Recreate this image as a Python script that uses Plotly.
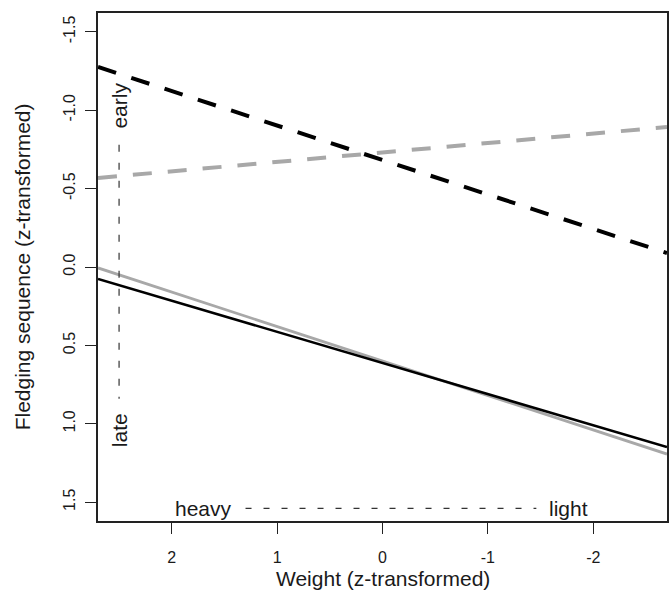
import plotly.graph_objects as go

# Weight (z-transformed) at the two ends of the plotted range
weight_z = [2.7, -2.7]

# Predicted fledging sequence at those weights
pred_black_dashed = [-1.276, -0.089]
pred_grey_dashed = [-0.568, -0.893]
pred_grey_solid = [0.006, 1.193]
pred_black_solid = [0.076, 1.148]

# Axis ticks
x_ticks = [2, 1, 0, -1, -2]
x_tick_labels = ["2", "1", "0", "-1", "-2"]
y_ticks = [-1.5, -1.0, -0.5, 0.0, 0.5, 1.0, 1.5]
y_tick_labels = ["-1.5", "-1.0", "-0.5", "0.0", "0.5", "1.0", "1.5"]

# Direction guides: early/late on the sequence axis, heavy/light on weight
guide_x = 2.5
guide_v_span = [-0.78, 0.84]
early_y, late_y = -1.03, 1.04
guide_y = 1.54
guide_h_span = [1.30, -1.46]
heavy_x, light_x = 1.70, -1.765

FONT = "Liberation Sans, Arial, sans-serif"
GREY = "#a8a8a8"
TEXT = "#1a1a1a"

fig = go.Figure()

fig.add_trace(go.Scatter(x=weight_z, y=pred_black_dashed, mode="lines",
                         line=dict(color="black", width=4, dash="19px,16px")))
fig.add_trace(go.Scatter(x=weight_z, y=pred_grey_dashed, mode="lines",
                         line=dict(color=GREY, width=4, dash="19px,16px")))
fig.add_trace(go.Scatter(x=weight_z, y=pred_grey_solid, mode="lines",
                         line=dict(color=GREY, width=2.8)))
fig.add_trace(go.Scatter(x=weight_z, y=pred_black_solid, mode="lines",
                         line=dict(color="black", width=2.6)))

# guide lines
fig.add_trace(go.Scatter(x=[guide_x, guide_x], y=guide_v_span, mode="lines",
                         line=dict(color="#333333", width=1.2, dash="7px,11px")))
fig.add_trace(go.Scatter(x=guide_h_span, y=[guide_y, guide_y], mode="lines",
                         line=dict(color="#333333", width=1.2, dash="6px,12px")))

guide_font = dict(family=FONT, size=21, color=TEXT)
fig.add_annotation(x=guide_x, y=early_y, text="early", textangle=-90,
                   showarrow=False, font=guide_font)
fig.add_annotation(x=guide_x, y=late_y, text="late", textangle=-90,
                   showarrow=False, font=guide_font)
fig.add_annotation(x=heavy_x, y=guide_y, text="heavy",
                   showarrow=False, font=guide_font)
fig.add_annotation(x=light_x, y=guide_y, text="light",
                   showarrow=False, font=guide_font)

# axis titles
title_font = dict(family=FONT, size=21, color=TEXT)
fig.add_annotation(xref="paper", yref="paper", x=0.5, y=-0.114,
                   xanchor="center", yanchor="middle",
                   text="Weight (z-transformed)", showarrow=False,
                   font=title_font)
fig.add_annotation(xref="paper", yref="paper", x=-0.1330, y=0.5,
                   xanchor="center", yanchor="middle",
                   text="Fledging sequence (z-transformed)", textangle=-90,
                   showarrow=False, font=title_font)

axis_common = dict(showgrid=False, zeroline=False, showline=True,
                   linecolor="#222222", linewidth=1.5, mirror=True,
                   ticks="outside", ticklen=11, tickwidth=1.3,
                   tickcolor="#222222",
                   tickfont=dict(family=FONT, size=16, color=TEXT))

fig.update_xaxes(range=[2.7, -2.7], tickvals=x_ticks, ticktext=x_tick_labels,
                 ticklabelstandoff=10, **axis_common)
fig.update_yaxes(range=[1.62, -1.62], tickvals=y_ticks,
                 ticktext=y_tick_labels, tickangle=-90,
                 ticklabelstandoff=4, **axis_common)

fig.update_layout(width=672, height=610, showlegend=False,
                  margin=dict(l=98, r=3, t=13, b=89),
                  paper_bgcolor="white", plot_bgcolor="white")

fig.write_html("out.html")
